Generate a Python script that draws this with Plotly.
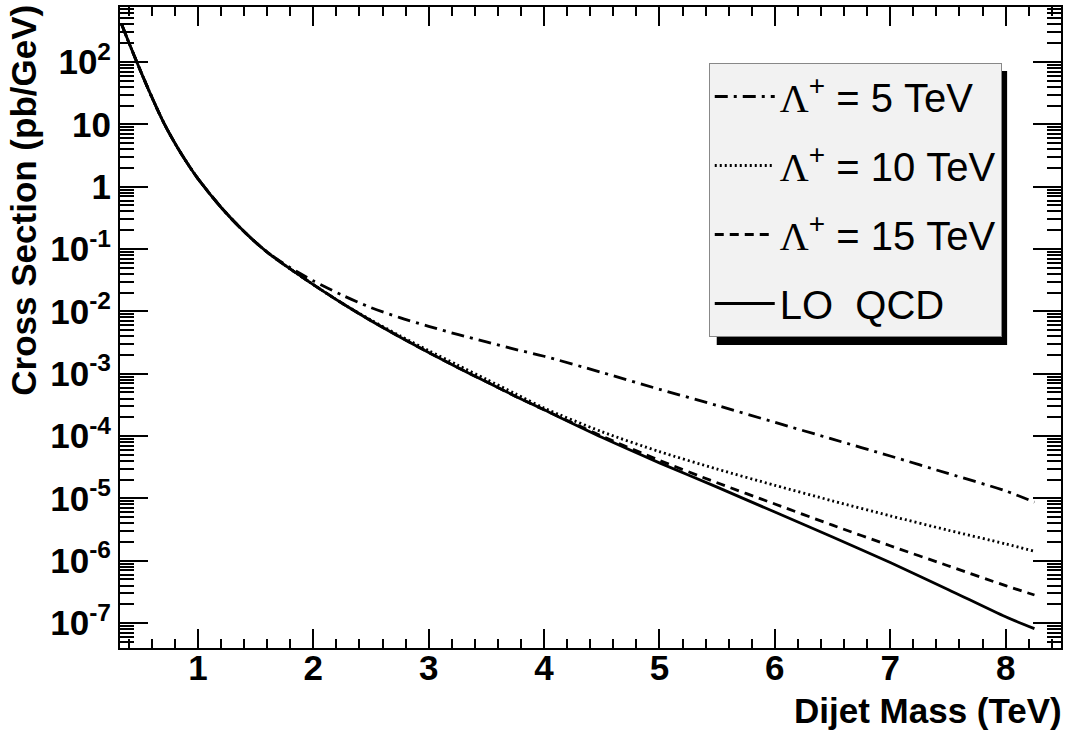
import plotly.graph_objects as go

# Dijet mass (TeV)
mass = [0.34, 0.4, 0.5, 0.6, 0.7, 0.8, 0.9, 1.0, 1.2, 1.4, 1.6, 1.8, 2.0, 2.25, 2.5,
        2.75, 3.0, 3.25, 3.5, 3.75, 4.0, 4.5, 5.0, 5.5, 6.0, 6.5, 7.0, 7.5, 8.0, 8.25]

# log10 of cross section (pb/GeV)
log_qcd = [2.60, 2.32, 1.87, 1.44, 1.04, 0.70, 0.40, 0.13, -0.33, -0.72, -1.05, -1.32, -1.57, -1.87, -2.15,
           -2.41, -2.66, -2.90, -3.13, -3.36, -3.58, -4.02, -4.43, -4.82, -5.22, -5.62, -6.03, -6.46, -6.90, -7.09]
log_l5 = [2.60, 2.32, 1.87, 1.44, 1.04, 0.70, 0.40, 0.13, -0.33, -0.72, -1.05, -1.30, -1.51, -1.74, -1.94,
          -2.10, -2.24, -2.37, -2.49, -2.61, -2.72, -2.98, -3.25, -3.51, -3.78, -4.05, -4.32, -4.60, -4.88, -5.06]
log_l10 = [2.60, 2.32, 1.87, 1.44, 1.04, 0.70, 0.40, 0.13, -0.33, -0.72, -1.05, -1.32, -1.57, -1.87, -2.14,
           -2.39, -2.63, -2.86, -3.09, -3.32, -3.55, -3.93, -4.25, -4.53, -4.79, -5.04, -5.28, -5.51, -5.73, -5.85]
log_l15 = [2.60, 2.32, 1.87, 1.44, 1.04, 0.70, 0.40, 0.13, -0.33, -0.72, -1.05, -1.32, -1.57, -1.87, -2.15,
           -2.41, -2.66, -2.90, -3.13, -3.36, -3.58, -4.00, -4.39, -4.75, -5.09, -5.43, -5.76, -6.08, -6.40, -6.55]

labels = ["Λ<sup>+</sup> = 5 TeV", "Λ<sup>+</sup> = 10 TeV", "Λ<sup>+</sup> = 15 TeV", "LO  QCD"]

x_ticks = [1, 2, 3, 4, 5, 6, 7, 8]
y_exps = [-7, -6, -5, -4, -3, -2, -1, 0, 1, 2]
y_ticktext = ["10<sup>-7</sup>", "10<sup>-6</sup>", "10<sup>-5</sup>", "10<sup>-4</sup>", "10<sup>-3</sup>",
              "10<sup>-2</sup>", "10<sup>-1</sup>", "1", "10", "10<sup>2</sup>"]


def lam(t):
    return t.replace("Λ", "<span style=\"font-family:'Liberation Serif'\">Λ</span>")


series = [
    (labels[0], log_l5, "13px,6px,3px,6px"),
    (labels[1], log_l10, "2px,3px"),
    (labels[2], log_l15, "9px,6px"),
    (labels[3], log_qcd, "solid"),
]

fig = go.Figure()
for i, (name, ly, dash) in enumerate(series):
    fig.add_trace(go.Scatter(
        x=mass, y=[10 ** v for v in ly], mode="lines", name=lam(name),
        line=dict(color="black", width=2.8, dash=dash, shape="spline", smoothing=0.8),
        legendgroup=str(i),
    ))

# plot geometry in pixels
L, R, T, B = 120, 5, 7, 83
W, H = 1068, 731
pw, ph = W - L - R, H - T - B


def px2x(p):
    return (p - L) / pw


def py2y(p):
    return (H - B - p) / ph


minor_y = [m * 10 ** e for e in range(-8, 3) for m in range(2, 10)]

fig.update_layout(
    width=W, height=H,
    margin=dict(l=L, r=R, t=T, b=B),
    paper_bgcolor="white", plot_bgcolor="white",
    font=dict(family="Liberation Sans", color="black"),
    showlegend=True,
    legend=dict(
        x=px2x(710), y=py2y(63), xanchor="left", yanchor="top",
        bgcolor="#f2f2f2", bordercolor="#888888", borderwidth=1,
        font=dict(family="Liberation Sans", size=40, color="black"),
        tracegroupgap=14, itemwidth=60,
    ),
    shapes=[dict(type="rect", xref="paper", yref="paper",
                 x0=px2x(718), x1=px2x(1009), y0=py2y(345), y1=py2y(71),
                 fillcolor="black", line=dict(width=0), layer="above")],
    annotations=[
        dict(text="<b>Cross Section (pb/GeV)</b>", textangle=-90, xref="paper", yref="paper",
             x=px2x(23), y=py2y(3), xanchor="center", yanchor="top", showarrow=False,
             font=dict(size=35, family="Liberation Sans")),
        dict(text="<b>Dijet Mass (TeV)</b>", xref="paper", yref="paper",
             x=px2x(1066), y=py2y(710), xanchor="right", yanchor="middle", showarrow=False,
             font=dict(size=35, family="Liberation Sans")),
    ],
)

fig.update_xaxes(
    range=[0.325, 8.48], showgrid=False, zeroline=False,
    showline=True, linecolor="black", linewidth=2, mirror="allticks",
    tickmode="array", tickvals=x_ticks, ticktext=[str(v) for v in x_ticks],
    ticks="inside", ticklen=19, tickwidth=1.5, tickcolor="black",
    ticklabelstandoff=-12,
    minor=dict(tickmode="linear", tick0=0, dtick=0.2, ticks="inside", ticklen=9, tickwidth=1.5, tickcolor="black"),
    tickfont=dict(size=35, family="Liberation Sans", weight="bold"),
)
fig.update_yaxes(
    type="log", range=[-7.40, 2.882], showgrid=False, zeroline=False,
    showline=True, linecolor="black", linewidth=2, mirror="allticks",
    tickmode="array", tickvals=[10 ** e for e in y_exps], ticktext=y_ticktext,
    ticks="inside", ticklen=28, tickwidth=1.5, tickcolor="black",
    minor=dict(tickmode="array", tickvals=minor_y, ticks="inside", ticklen=14, tickwidth=1.5, tickcolor="black"),
    tickfont=dict(size=35, family="Liberation Sans", weight="bold"),
)

fig.write_html("out.html")
